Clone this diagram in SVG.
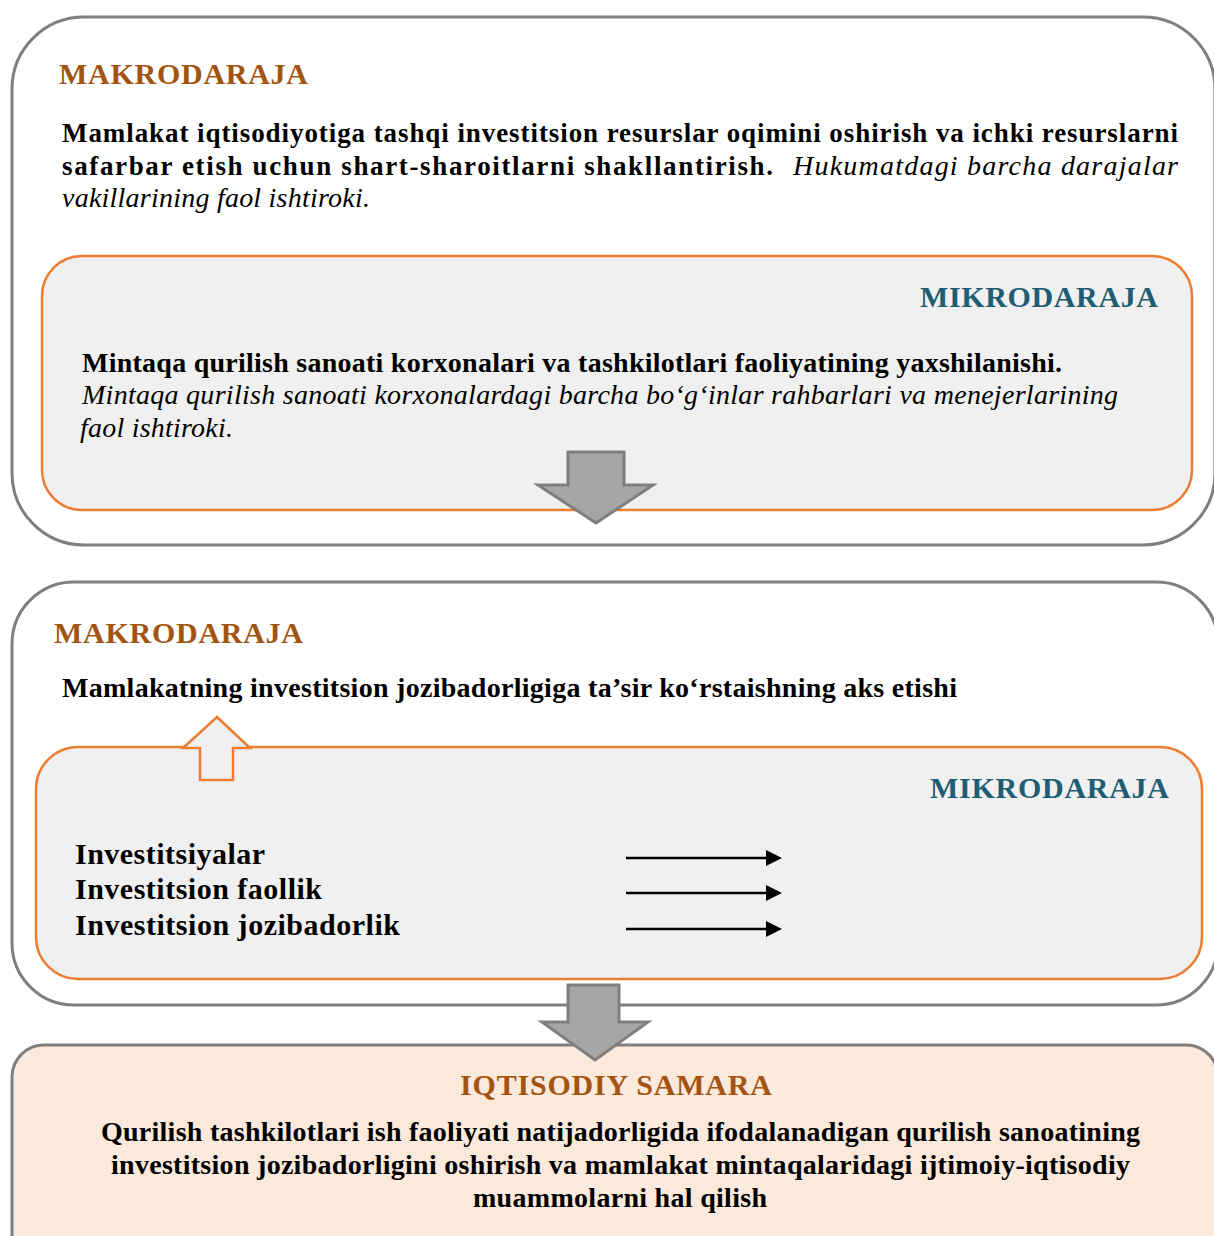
<svg xmlns="http://www.w3.org/2000/svg" width="1214" height="1236" viewBox="0 0 1214 1236">
<defs>
<style>
.outer{fill:#ffffff;stroke:#7f7f7f;stroke-width:3}
.inner{fill:#f0f0f0;stroke:#ed7d31;stroke-width:2.5}
.result{fill:#fbe9db;stroke:#7f7f7f;stroke-width:3}
.head{font-family:"Liberation Serif","Times New Roman",serif;font-weight:bold;font-size:30px}
.macro{fill:#a35410}
.micro{fill:#215d72}
.b{font-family:"Liberation Serif","Times New Roman",serif;font-weight:bold;font-size:28px;fill:#000}
.i{font-family:"Liberation Serif","Times New Roman",serif;font-style:italic;font-size:28px;fill:#000}
.s27{font-size:27px}
.big{fill:#a6a6a6;stroke:#7f7f7f;stroke-width:3;stroke-linejoin:miter}
.hollow{fill:#f0f0f0;stroke:#ed7d31;stroke-width:2.5}
.thin{stroke:#000;stroke-width:2.5;fill:none}
</style>
<marker id="ah" markerWidth="16" markerHeight="16" refX="1" refY="8" orient="auto" markerUnits="userSpaceOnUse" viewBox="0 0 16 16">
<path d="M0,0 L16,8 L0,16 Z" fill="#000"/>
</marker>
</defs>

<g id="macro-top">
<rect class="outer" x="12" y="17" width="1203" height="528" rx="72" ry="72"/>
<text class="head macro" x="59" y="84" textLength="249">MAKRODARAJA</text>
<text class="b s27" x="62" y="142" textLength="1116">Mamlakat iqtisodiyotiga tashqi investitsion resurslar oqimini oshirish va ichki resurslarni</text>
<text class="b s27" x="62" y="175" textLength="711">safarbar etish uchun shart-sharoitlarni shakllantirish.</text>
<text class="i" x="793" y="175" textLength="385">Hukumatdagi barcha darajalar</text>
<text class="i" x="62" y="207" textLength="308">vakillarining faol ishtiroki.</text>
</g>

<g id="micro-top">
<rect class="inner" x="42" y="256" width="1150" height="254" rx="40" ry="40"/>
<text class="head micro" x="920" y="307" textLength="238">MIKRODARAJA</text>
<text class="b" x="82" y="372" textLength="980">Mintaqa qurilish sanoati korxonalari va tashkilotlari faoliyatining yaxshilanishi.</text>
<text class="i" x="82" y="404" textLength="1036">Mintaqa qurilish sanoati korxonalardagi barcha bo‘g‘inlar rahbarlari va menejerlarining</text>
<text class="i" x="80" y="437" textLength="153">faol ishtiroki.</text>
</g>

<g id="macro-bottom">
<rect class="outer" x="12" y="582" width="1206" height="423" rx="62" ry="62"/>
<text class="head macro" x="54" y="643" textLength="249">MAKRODARAJA</text>
<text class="b" x="62" y="697" textLength="895">Mamlakatning investitsion jozibadorligiga ta’sir ko‘rstaishning aks etishi</text>
</g>

<g id="micro-bottom">
<rect class="inner" x="36" y="747" width="1166" height="232" rx="42" ry="42"/>
<text class="head micro" x="930" y="798" textLength="239">MIKRODARAJA</text>
<text class="b" x="75" y="864" style="font-size:30px" textLength="190">Investitsiyalar</text>
<text class="b" x="75" y="899" style="font-size:30px" textLength="247">Investitsion faollik</text>
<text class="b" x="75" y="935" style="font-size:30px" textLength="325">Investitsion jozibadorlik</text>
</g>

<g id="result">
<rect class="result" x="12" y="1045" width="1206" height="230" rx="32" ry="32"/>
<text class="head macro" x="460" y="1095" textLength="312">IQTISODIY SAMARA</text>
<text class="b" x="101" y="1141" textLength="1039">Qurilish tashkilotlari ish faoliyati natijadorligida ifodalanadigan qurilish sanoatining</text>
<text class="b" x="111" y="1174" textLength="1019">investitsion jozibadorligini oshirish va mamlakat mintaqalaridagi ijtimoiy-iqtisodiy</text>
<text class="b" x="473" y="1207" textLength="294">muammolarni hal qilish</text>
</g>

<g id="connectors">
<polygon class="big" points="568,452 624,452 624,485 653,485 596,523 538,485 568,485"/>
<polygon class="hollow" points="217,717 250,748 233,748 233,780 200,780 200,748 183,748"/>
<line class="thin" x1="626" y1="858" x2="767" y2="858" marker-end="url(#ah)"/>
<line class="thin" x1="626" y1="893" x2="767" y2="893" marker-end="url(#ah)"/>
<line class="thin" x1="626" y1="929" x2="767" y2="929" marker-end="url(#ah)"/>
<polygon class="big" points="568,985 619,985 619,1022 648,1022 595,1060 542,1022 568,1022"/>
</g>
</svg>
